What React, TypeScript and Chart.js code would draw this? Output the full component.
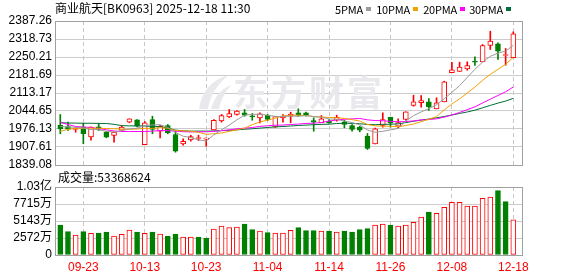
import React, { useEffect, useRef } from "react";
import { Chart, registerables } from "chart.js";

Chart.register(...registerables);

const NAME = "商业航天";
const CODE = "[BK0963]";
const STAMP = "2025-12-18 11:30";

const DATES = [
  "09-18", "09-19", "09-22", "09-23", "09-24", "09-25", "09-26", "09-29", "09-30",
  "10-09", "10-10", "10-13", "10-14", "10-15", "10-16", "10-17", "10-20", "10-21", "10-22", "10-23",
  "10-24", "10-27", "10-28", "10-29", "10-30", "10-31",
  "11-03", "11-04", "11-05", "11-06", "11-07", "11-10", "11-11", "11-12", "11-13", "11-14",
  "11-17", "11-18", "11-19", "11-20", "11-21", "11-24", "11-25", "11-26", "11-27", "11-28",
  "12-01", "12-02", "12-03", "12-04", "12-05", "12-08", "12-09", "12-10", "12-11", "12-12",
  "12-15", "12-16", "12-17", "12-18",
];
const DATE_TICKS = [3, 11, 19, 27, 35, 43, 51, 59];

const OPEN = [
  1990.5, 1985.6, 1974.2, 1983.0, 1946.4, 1984.5, 1964.0, 1951.4, 1971.5, 2002.0,
  2011.1, 1916.0, 2012.3, 1967.7, 1989.4, 1955.2, 1919.8, 1935.0, 1939.9, 1937.3,
  1973.0, 2007.3, 2022.5, 2031.3, 2037.8, 2023.7, 2018.7, 2028.6, 1983.7, 2018.7,
  2024.8, 2037.8, 2037.8, 2008.5, 1999.7, 2005.8, 2009.6, 2003.5, 1989.4, 1983.0,
  1948.7, 1919.8, 1989.4, 2021.0, 1986.7, 2012.3, 2065.6, 2075.9, 2079.6, 2053.0,
  2079.6, 2190.1, 2195.0, 2205.3, 2231.9, 2231.9, 2294.0, 2300.5, 2255.9, 2247.2,
];
const HIGH = [
  2031.3, 2002.0, 1981.8, 1997.0, 1984.5, 1997.0, 1966.6, 1964.0, 1989.4, 2014.9,
  2012.3, 2004.7, 2024.8, 1990.5, 1993.2, 1967.7, 1938.8, 1952.5, 1952.5, 1942.6,
  2012.3, 2031.3, 2050.3, 2046.5, 2050.3, 2035.1, 2037.8, 2031.3, 2023.7, 2031.3,
  2040.1, 2053.0, 2040.1, 2018.7, 2027.5, 2012.3, 2028.6, 2009.6, 1993.2, 1986.7,
  1959.0, 1979.2, 2037.8, 2021.0, 2014.9, 2041.6, 2104.8, 2103.6, 2092.2, 2094.9,
  2158.1, 2230.4, 2230.4, 2231.9, 2251.0, 2297.8, 2348.4, 2304.3, 2282.6, 2346.1,
];
const LOW = [
  1957.9, 1970.4, 1964.0, 1919.8, 1933.8, 1970.4, 1942.7, 1925.9, 1969.3, 1999.7,
  1984.5, 1916.0, 1957.9, 1942.6, 1957.9, 1887.8, 1914.4, 1929.6, 1932.3, 1910.6,
  1973.0, 2002.0, 2019.9, 2028.6, 2024.8, 2009.6, 1999.7, 2008.4, 1981.9, 2002.0,
  1999.7, 2024.8, 2024.8, 1967.7, 1999.7, 1997.0, 2005.8, 1980.7, 1967.7, 1965.5,
  1898.1, 1919.8, 1983.0, 1983.0, 1980.7, 2009.6, 2062.9, 2059.1, 2046.5, 2053.0,
  2079.6, 2190.1, 2195.0, 2200.0, 2217.8, 2231.9, 2278.8, 2240.7, 2219.0, 2247.2,
];
const CLOSE = [
  1976.9, 1975.4, 1976.9, 1957.9, 1983.0, 1974.2, 1944.9, 1964.0, 1983.0, 2014.9,
  1986.7, 1999.7, 1974.2, 1986.7, 1961.7, 1891.6, 1929.6, 1947.5, 1942.6, 1938.8,
  2009.6, 2027.5, 2035.1, 2043.9, 2028.6, 2022.5, 2034.0, 2012.3, 2023.7, 2024.8,
  2032.5, 2028.6, 2027.0, 2002.0, 2014.9, 1999.7, 2021.0, 1993.2, 1974.2, 1971.5,
  1901.9, 1976.9, 2012.3, 1999.7, 2001.0, 2041.6, 2079.6, 2084.6, 2060.6, 2075.9,
  2155.8, 2201.5, 2211.4, 2217.8, 2230.4, 2294.0, 2310.4, 2272.3, 2257.1, 2338.5,
];
const PREV_CLOSE = 1990.0;

const VOLUME = [
  45390000, 35260000, 30260000, 35260000, 32780000, 33290000, 34800000, 28750000, 31270000, 37830000,
  34800000, 32780000, 34800000, 31770000, 28750000, 31770000, 27230000, 27230000, 27230000, 25720000,
  39340000, 43880000, 41310000, 42360000, 46900000, 38330000, 36310000, 33790000, 33290000, 33290000,
  37320000, 41310000, 36810000, 36810000, 36310000, 36310000, 34800000, 36310000, 34800000, 38330000,
  39840000, 45390000, 46900000, 45390000, 43880000, 45390000, 49430000, 57500000, 65060000, 63040000,
  72130000, 79700000, 79700000, 74130000, 74130000, 85750000, 87740000, 97270000, 80700000, 53368624,
];

const MA5 = [
  1985.6, 1983.7, 1983.0, 1979.9, 1974.0, 1973.5, 1967.4, 1964.8, 1969.8, 1976.2,
  1978.7, 1989.7, 1991.7, 1992.4, 1981.8, 1962.8, 1948.8, 1943.4, 1934.6, 1930.0,
  1953.6, 1973.2, 1990.7, 2011.0, 2028.9, 2031.5, 2032.8, 2028.3, 2024.2, 2023.5,
  2025.5, 2024.4, 2027.3, 2023.0, 2021.0, 2014.4, 2012.9, 2006.2, 2000.6, 1991.9,
  1972.4, 1963.5, 1967.4, 1972.5, 1978.4, 2006.3, 2026.8, 2041.3, 2053.5, 2068.5,
  2091.3, 2115.7, 2141.0, 2172.5, 2203.4, 2231.0, 2252.8, 2265.0, 2272.8, 2294.5,
];
const MA10 = [
  1967.0, 1975.0, 1978.0, 1979.0, 1979.0, 1979.0, 1978.0, 1977.0, 1976.0, 1975.1,
  1976.1, 1978.5, 1978.3, 1981.1, 1979.0, 1970.7, 1969.2, 1967.6, 1963.5, 1955.9,
  1958.2, 1961.0, 1967.1, 1972.8, 1979.5, 1992.6, 2003.0, 2009.5, 2017.6, 2026.2,
  2028.5, 2028.6, 2027.8, 2023.6, 2022.2, 2020.0, 2018.7, 2016.7, 2011.8, 2006.5,
  1993.4, 1988.2, 1986.8, 1986.5, 1985.1, 1989.3, 1995.2, 2004.3, 2013.0, 2023.4,
  2048.8, 2071.3, 2091.2, 2113.0, 2135.9, 2161.2, 2184.2, 2203.0, 2222.7, 2248.9,
];
const MA20 = [
  2001.3, 1993.2, 1985.6, 1983.7, 1981.8, 1978.0, 1973.1, 1968.5, 1966.6, 1966.6,
  1966.6, 1966.6, 1968.0, 1970.0, 1970.0, 1968.0, 1966.0, 1965.0, 1965.5, 1965.5,
  1967.1, 1969.8, 1972.7, 1977.0, 1979.2, 1981.7, 1986.1, 1988.5, 1990.6, 1991.1,
  1993.3, 1994.8, 1997.4, 1998.2, 2000.9, 2006.3, 2010.8, 2013.1, 2014.7, 2016.3,
  2010.9, 2008.4, 2007.3, 2005.1, 2003.7, 2004.6, 2006.9, 2010.5, 2012.4, 2014.9,
  2021.1, 2029.7, 2039.0, 2049.8, 2060.5, 2075.2, 2089.7, 2103.7, 2117.8, 2136.2,
];
const MA30 = [
  2000.0, 1999.0, 1998.5, 1998.0, 1998.0, 1997.5, 1997.0, 1994.0, 1989.0, 1988.0,
  1988.0, 1987.5, 1986.0, 1985.0, 1980.0, 1972.0, 1969.0, 1968.0, 1968.0, 1968.0,
  1968.5, 1970.0, 1971.0, 1973.0, 1975.0, 1977.0, 1979.5, 1982.0, 1984.0, 1985.7,
  1987.6, 1989.4, 1991.0, 1992.5, 1993.6, 1994.4, 1997.0, 1997.9, 1997.6, 1996.2,
  1993.4, 1992.6, 1993.9, 1994.3, 1995.6, 2000.6, 2005.6, 2010.2, 2014.1, 2018.7,
  2023.6, 2029.4, 2035.2, 2041.0, 2047.8, 2056.8, 2066.0, 2074.7, 2082.5, 2092.9,
];

const PRICE_TICKS = [1839.08, 1907.61, 1976.13, 2044.65, 2113.17, 2181.69, 2250.21, 2318.73, 2387.26];
const VOLUME_TICKS = [0, 25715000, 51430000, 77145000, 102860000];

const MA_SERIES = [
  { label: "5PMA", values: MA5, color: "#9a9a9a" },
  { label: "10PMA", values: MA10, color: "#f0a000" },
  { label: "20PMA", values: MA20, color: "#ff00ff" },
  { label: "30PMA", values: MA30, color: "#006e36" },
];

const RED = "#ff0000";
const GREEN = "#008000";
const X_MIN = -0.69;
const X_MAX = 60.13;
const FONT = '"Liberation Sans", Arial, "Noto Sans CJK SC", sans-serif';

const framePlugin = {
  id: "frame",
  afterDraw(chart: any) {
    const { ctx, chartArea: a } = chart;
    ctx.save();
    ctx.strokeStyle = "#a0a0a0";
    ctx.lineWidth = 1;
    ctx.strokeRect(Math.round(a.left) + 0.5, Math.round(a.top) + 0.5, Math.round(a.right - a.left), Math.round(a.bottom - a.top));
    ctx.restore();
  },
};

const watermarkPlugin = {
  id: "watermark",
  beforeDatasetsDraw(chart: any) {
    const { ctx } = chart;
    ctx.save();
    ctx.fillStyle = "#e8e8ed";
    // logo swoosh
    ctx.beginPath();
    ctx.moveTo(199, 109);
    ctx.quadraticCurveTo(203, 82, 229, 75);
    ctx.quadraticCurveTo(211, 89, 208, 109);
    ctx.closePath();
    ctx.fill();
    ctx.beginPath();
    ctx.moveTo(211, 109);
    ctx.quadraticCurveTo(216, 91, 231, 85);
    ctx.quadraticCurveTo(221, 97, 219, 109);
    ctx.closePath();
    ctx.fill();
    ctx.font = 'bold 35px "Noto Sans CJK SC", sans-serif';
    ctx.textBaseline = "middle";
    ctx.textAlign = "left";
    try { (ctx as any).letterSpacing = "3px"; } catch (e) {}
    ctx.fillText("东方财富", 233, 93);
    ctx.restore();
  },
};

function xScale(showLabels: boolean) {
  return {
    type: "linear",
    min: X_MIN,
    max: X_MAX,
    offset: false,
    grid: { display: true, offset: false, color: "#c8c8c8", lineWidth: 1, drawTicks: false },
    border: { display: false, dash: [4, 3] },
    ticks: {
      display: showLabels,
      autoSkip: false,
      maxRotation: 0,
      color: RED,
      padding: 5,
      font: { family: FONT, size: 12 },
      callback: (v: any) => DATES[Number(v)] ?? "",
    },
    afterBuildTicks: (s: any) => {
      s.ticks = DATE_TICKS.map((v) => ({ value: v }));
    },
    afterFit: (s: any) => {
      s.height = showLabels ? 21 : 0;
    },
  };
}

function fmtVolume(v: number) {
  if (v === 0) return "0";
  if (v >= 1e8) return (v / 1e8).toFixed(2) + "亿";
  return Math.round(v / 1e4) + "万";
}

export default function App() {
  const mainRef = useRef<HTMLCanvasElement>(null);
  const volRef = useRef<HTMLCanvasElement>(null);

  useEffect(() => {
    const idx = DATES.map((_, i) => i);
    const up = idx.map((i) => CLOSE[i] >= OPEN[i]);
    const fill = up.map((u) => (u ? "#ffffff" : GREEN));
    const line = up.map((u) => (u ? RED : GREEN));
    const volUp = idx.map((i) => CLOSE[i] >= (i === 0 ? PREV_CLOSE : CLOSE[i - 1]));

    const main = new Chart(mainRef.current as HTMLCanvasElement, {
      type: "bar",
      data: {
        datasets: [
          ...MA_SERIES.map((m) => ({
            type: "line" as const,
            label: m.label,
            data: idx.map((i) => ({ x: i, y: m.values[i] })),
            borderColor: m.color,
            borderWidth: 1,
            pointRadius: 0,
            tension: 0,
            order: 0,
          })),
          {
            type: "bar" as const,
            label: "body",
            data: idx.map((i) => ({ x: i, y: [OPEN[i], CLOSE[i]] })),
            backgroundColor: fill,
            borderColor: line,
            borderWidth: 1,
            borderSkipped: false,
            barThickness: 5,
            minBarLength: 1,
            grouped: false,
            order: 1,
          },
          {
            type: "bar" as const,
            label: "wick",
            data: idx.map((i) => ({ x: i, y: [LOW[i], HIGH[i]] })),
            backgroundColor: line,
            borderWidth: 0,
            barThickness: 1,
            grouped: false,
            order: 2,
          },
        ] as any,
      },
      options: {
        animation: false,
        responsive: false,
        devicePixelRatio: 1,
        events: [],
        layout: { padding: { left: 0, right: 56, top: 21, bottom: 20 } },
        plugins: { legend: { display: false }, tooltip: { enabled: false } },
        scales: {
          x: xScale(false) as any,
          y: {
            type: "linear",
            min: PRICE_TICKS[0],
            max: PRICE_TICKS[PRICE_TICKS.length - 1],
            grid: { color: "#cccccc", drawTicks: false },
            border: { display: false },
            ticks: {
              autoSkip: false,
              color: "#000",
              padding: 3,
              font: { family: FONT, size: 12 },
              callback: (v: any) => Number(v).toFixed(2),
            },
            afterBuildTicks: (s: any) => {
              s.ticks = PRICE_TICKS.map((v) => ({ value: v }));
            },
            afterFit: (s: any) => {
              s.width = 55;
            },
          } as any,
        },
      },
      plugins: [watermarkPlugin, framePlugin],
    });

    const vol = new Chart(volRef.current as HTMLCanvasElement, {
      type: "bar",
      data: {
        datasets: [
          {
            label: "volume",
            data: idx.map((i) => ({ x: i, y: VOLUME[i] })),
            backgroundColor: volUp.map((u) => (u ? "#ffffff" : GREEN)),
            borderColor: volUp.map((u) => (u ? RED : GREEN)),
            borderWidth: 1,
            borderSkipped: false,
            barThickness: 5,
            grouped: false,
          },
        ] as any,
      },
      options: {
        animation: false,
        responsive: false,
        devicePixelRatio: 1,
        events: [],
        layout: { padding: { left: 0, right: 56, top: 17, bottom: 0 } },
        plugins: { legend: { display: false }, tooltip: { enabled: false } },
        scales: {
          x: xScale(true) as any,
          y: {
            type: "linear",
            min: 0,
            max: VOLUME_TICKS[VOLUME_TICKS.length - 1],
            grid: { color: "#cccccc", drawTicks: false },
            border: { display: false },
            ticks: {
              autoSkip: false,
              color: "#000",
              padding: 3,
              font: { family: FONT, size: 12 },
              callback: (v: any) => fmtVolume(Number(v)),
            },
            afterBuildTicks: (s: any) => {
              s.ticks = VOLUME_TICKS.map((v) => ({ value: v }));
            },
            afterFit: (s: any) => {
              s.width = 55;
            },
          } as any,
        },
      },
      plugins: [framePlugin],
    });

    return () => {
      main.destroy();
      vol.destroy();
    };
  }, []);

  const textFont = '12px "Noto Sans CJK SC", sans-serif';
  const legendSquares = [371, 418, 465, 511];

  return (
    <div style={{ position: "fixed", left: 0, top: 0, width: 578, height: 276, background: "#fff", overflow: "hidden" }}>
      <canvas ref={mainRef} width={578} height={185} style={{ position: "absolute", left: 0, top: 0, width: 578, height: 185 }} />
      <canvas ref={volRef} width={578} height={106} style={{ position: "absolute", left: 0, top: 170, width: 578, height: 106 }} />
      <div style={{ position: "absolute", left: 55, top: 1, font: textFont, lineHeight: "14px", color: "#000", whiteSpace: "nowrap" }}>
        {NAME}{CODE} {STAMP}
      </div>
      {MA_SERIES.map((m, k) => (
        <div
          key={m.label}
          style={{
            position: "absolute",
            right: 578 - legendSquares[k],
            top: 2,
            height: 14,
            display: "flex",
            alignItems: "center",
            gap: 3,
            font: '11px "Noto Sans CJK SC", sans-serif',
            letterSpacing: "-0.2px",
            color: "#000",
            whiteSpace: "nowrap",
          }}
        >
          <span>{m.label}</span>
          <span style={{ display: "inline-block", width: 5, height: 4, background: m.color }} />
        </div>
      ))}
      <div style={{ position: "absolute", left: 58, top: 170, font: textFont, lineHeight: "14px", color: "#000", whiteSpace: "nowrap" }}>
        成交量:{VOLUME[VOLUME.length - 1]}
      </div>
    </div>
  );
}
